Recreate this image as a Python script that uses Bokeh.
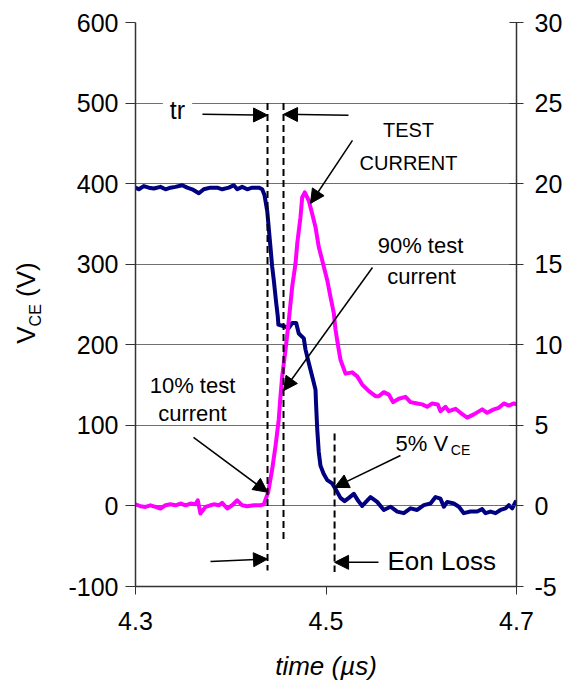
from bokeh.plotting import figure
from bokeh.layouts import row
from bokeh.models import (Range1d, LinearAxis, FixedTicker, Label, Arrow, NormalHead,
                          PrintfTickFormatter, Div)
from bokeh.embed import file_html
from bokeh.resources import INLINE

# ---------------- data ----------------
time_vce = [4.3000, 4.3035, 4.3087, 4.3140, 4.3192, 4.3262, 4.3315, 4.3367, 4.3420, 4.3490,
            4.3543, 4.3595, 4.3665, 4.3717, 4.3787, 4.3858, 4.3910, 4.3980, 4.4032, 4.4068,
            4.4120, 4.4173, 4.4225, 4.4295, 4.4330, 4.4354, 4.4383, 4.4417, 4.4435, 4.4452,
            4.4477, 4.4494, 4.4500, 4.4557, 4.4610, 4.4645, 4.4687, 4.4714, 4.4767, 4.4785,
            4.4820, 4.4872, 4.4890, 4.4895, 4.4908, 4.4924, 4.4942, 4.4975, 4.5013, 4.5065,
            4.5100, 4.5152, 4.5195, 4.5240, 4.5292, 4.5340, 4.5380, 4.5467, 4.5537, 4.5607,
            4.5677, 4.5748, 4.5817, 4.5887, 4.5957, 4.6027, 4.6097, 4.6150, 4.6202, 4.6237,
            4.6273, 4.6342, 4.6395, 4.6447, 4.6517, 4.6587, 4.6640, 4.6675, 4.6727, 4.6780,
            4.6832, 4.6885, 4.6920, 4.6955, 4.6990, 4.7000]
vce = [395, 393, 397, 395, 394, 396, 393, 395, 396, 398,
       395, 393, 388, 393, 395, 395, 393, 395, 398, 393,
       396, 393, 395, 395, 393, 386, 366, 321, 297, 280,
       252, 235, 225, 223, 221, 227, 227, 214, 208, 194,
       177, 153, 144, 128, 95, 67, 50, 40, 32, 28,
       21, 10, 6, 10, 15, 6, 0, 11, 5, -5,
       -1, -7, -9, -3, -5, 1, 3, 11, 9, -1,
       5, 3, -1, -9, -7, -7, -4, -9, -7, -9,
       -5, -3, 1, -3, 5, 6]

time_cur = [4.3000, 4.3052, 4.3105, 4.3157, 4.3210, 4.3262, 4.3315, 4.3367, 4.3420, 4.3472,
            4.3525, 4.3577, 4.3630, 4.3654, 4.3682, 4.3735, 4.3787, 4.3822, 4.3875, 4.3910,
            4.3963, 4.4015, 4.4068, 4.4120, 4.4173, 4.4242, 4.4312, 4.4347, 4.4375, 4.4393,
            4.4435, 4.4470, 4.4504, 4.4522, 4.4540, 4.4575, 4.4610, 4.4645, 4.4680, 4.4698,
            4.4732, 4.4750, 4.4777, 4.4819, 4.4855, 4.4890, 4.4924, 4.4960, 4.5013, 4.5047,
            4.5082, 4.5100, 4.5128, 4.5152, 4.5205, 4.5275, 4.5328, 4.5380, 4.5450, 4.5520,
            4.5554, 4.5607, 4.5659, 4.5705, 4.5764, 4.5835, 4.5887, 4.5957, 4.6010, 4.6062,
            4.6115, 4.6174, 4.6202, 4.6255, 4.6289, 4.6360, 4.6412, 4.6482, 4.6552, 4.6640,
            4.6692, 4.6762, 4.6814, 4.6867, 4.6919, 4.6972, 4.7000]
current = [0.10, -0.02, -0.06, 0.04, -0.06, -0.16, 0.04, 0.10, 0.04, 0.15,
           0.04, 0.15, 0.10, 0.35, -0.47, -0.06, 0.04, 0.10, 0.04, 0.19,
           -0.16, 0.04, 0.35, 0.04, -0.02, 0.04, 0.04, 0.10, 0.56, 0.85,
           2.28, 3.72, 5.37, 6.81, 8.04, 9.69, 11.54, 13.60, 15.04, 16.28,
           17.92, 19.15, 19.46, 18.95, 18.13, 17.30, 16.07, 15.25, 14.01, 12.98,
           11.96, 10.93, 9.90, 9.07, 8.21, 8.29, 8.04, 7.53, 7.12, 6.81,
           6.81, 7.06, 6.91, 6.44, 6.65, 6.77, 6.44, 6.36, 6.30, 6.15,
           6.36, 6.30, 5.88, 6.15, 5.88, 6.03, 5.78, 5.48, 5.68, 5.99,
           5.78, 5.99, 6.09, 6.36, 6.23, 6.36, 6.30]

x_ticks = [4.3, 4.5, 4.7]
vce_ticks = [-100, 0, 100, 200, 300, 400, 500, 600]
cur_ticks = [-5, 0, 5, 10, 15, 20, 25, 30]

# marker times (µs): 10 % current, 90 % current, 5 % VCE
t_10 = 4.4386
t_90 = 4.4554
t_5 = 4.5090

FONT = "Liberation Sans"
AX_COLOR = "#333333"
TITLE_W = 55

p = figure(width=570 - TITLE_W, height=684, output_backend="svg", toolbar_location=None,
           x_range=Range1d(4.3, 4.7), y_range=Range1d(-100, 600),
           min_border_left=135 - TITLE_W, min_border_right=54, min_border_top=22,
           min_border_bottom=98)
p.extra_y_ranges = {"cur": Range1d(-5, 30)}
p.outline_line_color = None
p.background_fill_color = "white"

# x axis
xa = p.xaxis[0]
xa.ticker = FixedTicker(ticks=x_ticks, minor_ticks=[])
xa.formatter = PrintfTickFormatter(format="%.1f")
xa.axis_label = "time (µs)"
xa.axis_label_text_font = FONT
xa.axis_label_text_font_style = "italic"
xa.axis_label_text_font_size = "26px"
xa.axis_label_text_color = "black"
xa.axis_label_standoff = 18
xa.major_label_text_font = FONT
xa.major_label_text_font_size = "25px"
xa.major_label_text_color = "black"
xa.major_label_standoff = 17
xa.major_tick_in = 0
xa.major_tick_out = 8
xa.axis_line_color = AX_COLOR
xa.major_tick_line_color = AX_COLOR
xa.axis_line_width = 1.5

# left axis
ya = p.yaxis[0]
ya.ticker = FixedTicker(ticks=vce_ticks, minor_ticks=[])
ya.formatter = PrintfTickFormatter(format="%d")
ya.major_label_text_font = FONT
ya.major_label_text_font_size = "25px"
ya.major_label_text_color = "black"
ya.major_label_standoff = 7
ya.major_tick_in = 0
ya.major_tick_out = 10
ya.axis_line_color = AX_COLOR
ya.major_tick_line_color = AX_COLOR
ya.axis_line_width = 1.5

# right axis (current)
ra = LinearAxis(y_range_name="cur", ticker=FixedTicker(ticks=cur_ticks, minor_ticks=[]),
                formatter=PrintfTickFormatter(format="%d"))
ra.major_label_text_font = FONT
ra.major_label_text_font_size = "25px"
ra.major_label_text_color = "black"
ra.major_label_standoff = 11
ra.major_tick_in = 7
ra.major_tick_out = 7
ra.axis_line_color = AX_COLOR
ra.major_tick_line_color = AX_COLOR
ra.axis_line_width = 1.5
p.add_layout(ra, "right")

p.xgrid.visible = False
p.ygrid.ticker = FixedTicker(ticks=vce_ticks, minor_ticks=[])
p.ygrid.grid_line_color = "#707070"
p.ygrid.grid_line_width = 1

# curves
p.line(time_vce, vce, line_color="#000080", line_width=4, line_join="round")
p.line(time_cur, current, y_range_name="cur", line_color="#FF00FF", line_width=4,
       line_join="round")

# dashed marker lines
p.segment(x0=[t_10, t_90, t_5], y0=[500, 500, 90], x1=[t_10, t_90, t_5], y1=[-80, -45, -82],
          line_color="black", line_width=2, line_dash="7 4")


def arrow(x0, y0, x1, y1):
    p.add_layout(Arrow(end=NormalHead(size=14, fill_color="black", line_color="black",
                                      line_width=1),
                       x_start=x0, y_start=y0, x_end=x1, y_end=y1,
                       line_color="black", line_width=1.5))


def label(x, y, text, size="22px", align="center", bg=None):
    lab = Label(x=x, y=y, text=text, text_font=FONT, text_font_size=size,
                text_align=align, text_baseline="middle", text_color="black")
    if bg:
        lab.background_fill_color = bg
        lab.padding = 7
    p.add_layout(lab)


# tr
label(4.3441, 492, "tr", size="25px", bg="white")
arrow(4.3703, 486, t_10, 485)
arrow(4.5236, 485, t_90, 486)

# TEST CURRENT
label(4.5866, 466, "TEST", size="20px")
label(4.5866, 426, "CURRENT", size="20px")
arrow(4.5278, 453.6, 4.4837, 375.4)

# 90% test current
label(4.5992, 323, "90% test")
label(4.6003, 285, "current")
arrow(4.5488, 296, t_90, 143)

# 10% test current
label(4.3598, 150, "10% test")
label(4.3598, 115, "current")
arrow(4.3609, 85, t_10, 17)

# 5% VCE
label(4.5730, 77.5, "5% V", align="left")
label(4.6310, 69, "CE", size="14px", align="left")
arrow(4.5782, 62.6, t_5, 23)

# bottom arrows / Eon Loss
arrow(4.3787, -69, t_10, -66)
arrow(4.5551, -70, t_5, -70)
label(4.5646, -68, "Eon Loss", size="26px", align="left")

# y-axis title V_CE (V), rotated, in a narrow strip left of the plot
ytitle = Div(
    text=('<div style="position:absolute; left:28px; top:303px; '
          'transform:translate(-50%,-50%) rotate(-90deg); white-space:nowrap; '
          "font-family:'Liberation Sans'; font-size:26px; line-height:1; color:black;\">"
          'V<sub style="font-size:16px; vertical-align:-6px;">CE</sub> (V)</div>'),
    width=TITLE_W, height=684, margin=0)

layout = row(ytitle, p, spacing=0)

open("out.html", "w").write(file_html(layout, INLINE))
